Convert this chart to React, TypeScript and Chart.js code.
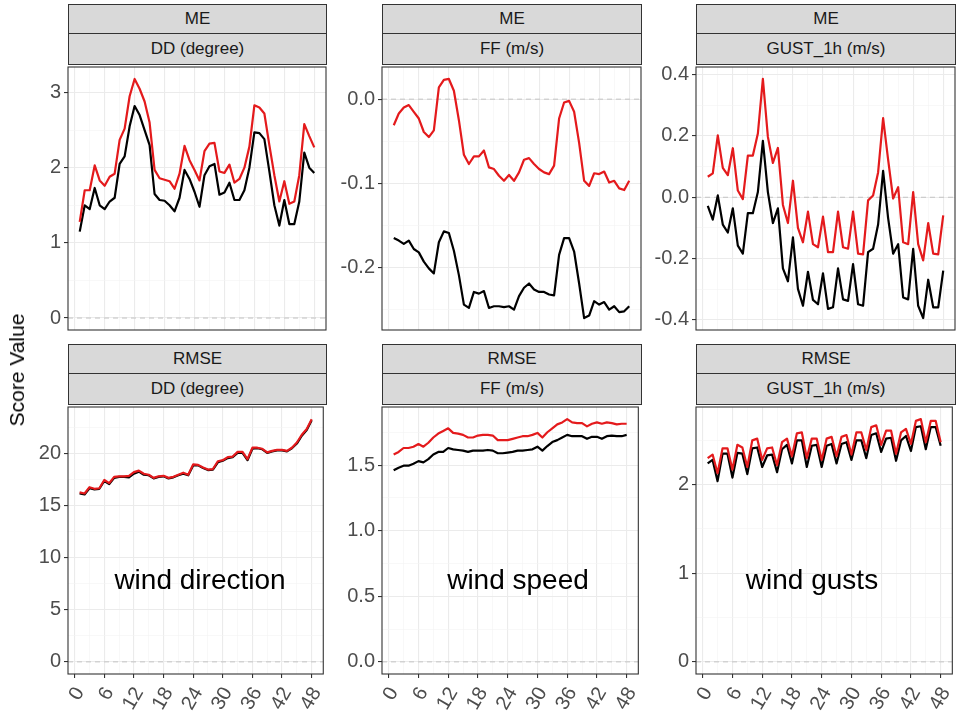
import React, { useEffect, useRef } from 'react';
import { Chart, registerables } from 'chart.js';

Chart.register(...registerables);

const FONT = "'Liberation Sans', Arial, Helvetica, sans-serif";

// ---------- data ----------
const HOURS = [1, 2, 3, 4, 5, 6, 7, 8, 9, 10, 11, 12, 13, 14, 15, 16, 17, 18, 19, 20, 21, 22, 23, 24,
  25, 26, 27, 28, 29, 30, 31, 32, 33, 34, 35, 36, 37, 38, 39, 40, 41, 42, 43, 44, 45, 46, 47, 48];
const X_TICKS = [0, 3, 6, 9, 12, 15, 18, 21, 24, 27, 30, 33, 36, 39, 42, 45, 48];
const X_MAJOR = [0, 6, 12, 18, 24, 30, 36, 42, 48];

const DD_ME_RED = [1.28, 1.70, 1.70, 2.03, 1.83, 1.76, 1.88, 1.92, 2.37, 2.52, 2.95, 3.18, 3.05, 2.88, 2.60, 1.97,
  1.86, 1.84, 1.82, 1.72, 1.92, 2.29, 2.10, 1.97, 1.83, 2.22, 2.32, 2.33, 1.95, 1.93, 2.04, 1.80,
  1.85, 2.00, 2.28, 2.83, 2.80, 2.72, 2.30, 1.90, 1.55, 1.82, 1.52, 1.55, 1.90, 2.58, 2.42, 2.27];
const DD_ME_BLACK = [1.15, 1.50, 1.45, 1.73, 1.50, 1.45, 1.55, 1.60, 2.05, 2.15, 2.55, 2.82, 2.70, 2.50, 2.30, 1.65,
  1.57, 1.56, 1.50, 1.42, 1.60, 1.97, 1.85, 1.68, 1.48, 1.90, 2.02, 2.05, 1.64, 1.67, 1.80, 1.57,
  1.57, 1.70, 2.00, 2.47, 2.46, 2.38, 1.95, 1.50, 1.23, 1.57, 1.25, 1.25, 1.55, 2.20, 2.00, 1.93];

const FF_ME_RED = [-0.031, -0.017, -0.010, -0.007, -0.015, -0.023, -0.039, -0.045, -0.037, 0.014, 0.023, 0.024,
  0.010, -0.025, -0.066, -0.077, -0.068, -0.068, -0.061, -0.081, -0.083, -0.091, -0.097, -0.090,
  -0.097, -0.087, -0.072, -0.070, -0.077, -0.083, -0.087, -0.089, -0.079, -0.023, -0.004, -0.002,
  -0.015, -0.052, -0.097, -0.103, -0.088, -0.089, -0.086, -0.099, -0.097, -0.106, -0.108, -0.097];
const FF_ME_BLACK = [-0.165, -0.168, -0.172, -0.168, -0.178, -0.182, -0.193, -0.201, -0.207, -0.170, -0.157, -0.159,
  -0.180, -0.209, -0.244, -0.248, -0.229, -0.231, -0.228, -0.248, -0.246, -0.246, -0.247, -0.246,
  -0.250, -0.234, -0.224, -0.219, -0.226, -0.229, -0.229, -0.232, -0.233, -0.185, -0.165, -0.165,
  -0.181, -0.219, -0.260, -0.257, -0.240, -0.244, -0.241, -0.250, -0.246, -0.253, -0.252, -0.246];

const GUST_ME_RED = [0.067, 0.078, 0.202, 0.096, 0.072, 0.160, 0.022, -0.006, 0.136, 0.136, 0.208, 0.386,
  0.197, 0.112, 0.161, -0.025, -0.084, 0.054, -0.100, -0.147, -0.047, -0.153, -0.163, -0.063,
  -0.179, -0.179, -0.047, -0.163, -0.168, -0.047, -0.184, -0.186, -0.010, 0.006, 0.081, 0.258,
  0.123, -0.004, 0.033, -0.147, -0.153, 0.017, -0.153, -0.206, -0.084, -0.184, -0.186, -0.059];
const GUST_ME_BLACK = [-0.028, -0.073, 0.006, -0.089, -0.115, -0.036, -0.158, -0.184, -0.052, -0.052, 0.017, 0.184,
  0.017, -0.084, -0.036, -0.232, -0.274, -0.131, -0.299, -0.354, -0.243, -0.335, -0.349, -0.248,
  -0.364, -0.359, -0.232, -0.333, -0.338, -0.218, -0.349, -0.354, -0.179, -0.168, -0.089, 0.086,
  -0.068, -0.184, -0.153, -0.327, -0.333, -0.168, -0.354, -0.394, -0.269, -0.359, -0.359, -0.239];

const DD_RMSE_RED = [16.3, 16.2, 16.8, 16.65, 16.7, 17.5, 17.2, 17.8, 17.85, 17.85, 17.9, 18.25, 18.4, 18.1, 18.0, 17.7,
  17.85, 17.9, 17.7, 17.8, 18.0, 18.2, 18.0, 19.0, 18.95, 18.7, 18.5, 18.55, 19.3, 19.4, 19.7, 19.75,
  20.2, 20.2, 19.5, 20.6, 20.6, 20.5, 20.15, 20.3, 20.4, 20.4, 20.3, 20.6, 21.1, 21.85, 22.4, 23.35];
const DD_RMSE_BLACK = [16.2, 16.1, 16.7, 16.6, 16.65, 17.4, 17.1, 17.7, 17.8, 17.8, 17.75, 18.1, 18.3, 18.0, 17.95, 17.65,
  17.8, 17.85, 17.65, 17.75, 17.95, 18.1, 17.95, 18.9, 18.9, 18.65, 18.45, 18.5, 19.2, 19.35, 19.6, 19.7,
  20.1, 20.1, 19.4, 20.5, 20.55, 20.45, 20.1, 20.25, 20.35, 20.35, 20.25, 20.55, 21.0, 21.75, 22.3, 23.25];

const FF_RMSE_RED = [1.58, 1.60, 1.63, 1.63, 1.64, 1.66, 1.64, 1.67, 1.71, 1.74, 1.76, 1.78, 1.745, 1.74, 1.73, 1.71,
  1.71, 1.725, 1.73, 1.73, 1.725, 1.69, 1.69, 1.69, 1.70, 1.71, 1.72, 1.72, 1.73, 1.745, 1.71, 1.75,
  1.78, 1.81, 1.825, 1.85, 1.825, 1.82, 1.82, 1.795, 1.815, 1.825, 1.815, 1.825, 1.82, 1.81, 1.815, 1.815];
const FF_RMSE_BLACK = [1.46, 1.48, 1.495, 1.495, 1.51, 1.53, 1.52, 1.545, 1.58, 1.60, 1.60, 1.63, 1.62, 1.615, 1.61, 1.60,
  1.61, 1.61, 1.61, 1.615, 1.61, 1.59, 1.59, 1.595, 1.60, 1.61, 1.61, 1.615, 1.62, 1.64, 1.61, 1.645,
  1.675, 1.69, 1.71, 1.73, 1.72, 1.72, 1.72, 1.70, 1.715, 1.715, 1.70, 1.72, 1.725, 1.72, 1.72, 1.73];

const GUST_RMSE_RED = [2.30, 2.34, 2.13, 2.41, 2.41, 2.17, 2.45, 2.42, 2.20, 2.50, 2.52, 2.28, 2.41, 2.42, 2.22, 2.48,
  2.52, 2.32, 2.58, 2.59, 2.30, 2.52, 2.52, 2.28, 2.52, 2.54, 2.32, 2.54, 2.56, 2.34, 2.59, 2.59,
  2.39, 2.65, 2.67, 2.45, 2.61, 2.61, 2.35, 2.59, 2.63, 2.46, 2.72, 2.74, 2.48, 2.72, 2.72, 2.48];
const GUST_RMSE_BLACK = [2.24, 2.28, 2.04, 2.35, 2.35, 2.08, 2.36, 2.35, 2.12, 2.41, 2.42, 2.20, 2.33, 2.34, 2.14, 2.40,
  2.45, 2.24, 2.50, 2.50, 2.20, 2.44, 2.45, 2.20, 2.44, 2.46, 2.24, 2.46, 2.48, 2.28, 2.50, 2.50,
  2.30, 2.56, 2.58, 2.37, 2.52, 2.53, 2.27, 2.50, 2.55, 2.38, 2.65, 2.66, 2.40, 2.65, 2.65, 2.44];

// y tick lists
const DD_ME_YMAJOR = [0, 1, 2, 3];
const DD_ME_YMINOR = [0.5, 1.5, 2.5];
const FF_ME_YMAJOR = [-0.2, -0.1, 0];
const FF_ME_YMINOR = [-0.25, -0.15, -0.05];
const GUST_ME_YMAJOR = [-0.4, -0.2, 0, 0.2, 0.4];
const GUST_ME_YMINOR = [-0.3, -0.1, 0.1, 0.3];
const DD_RMSE_YMAJOR = [0, 5, 10, 15, 20];
const DD_RMSE_YMINOR = [2.5, 7.5, 12.5, 17.5, 22.5];
const FF_RMSE_YMAJOR = [0, 0.5, 1, 1.5];
const FF_RMSE_YMINOR = [0.25, 0.75, 1.25, 1.75];
const GUST_RMSE_YMAJOR = [0, 1, 2];
const GUST_RMSE_YMINOR = [0.5, 1.5, 2.5];

const SCORES = ['ME', 'RMSE'];
const PARAMS = ['DD (degree)', 'FF (m/s)', 'GUST_1h (m/s)'];
const NOTES = ['wind direction', 'wind speed', 'wind gusts'];
const Y_TITLE = 'Score Value';

// ---------- layout ----------
const COL_X = [68, 382, 696];
const COL_W = [258, 259, 259];
const ROW_Y = [64, 404];
const ROW_H = [269, 270];
const STRIP_TOP = [4, 344];
const YW = 70;
const PT = 12;
const PR = 12;
const PB = 12;
const XH = 46;
const XMIN = -1.35;
const XMAX = 50.35;

const RED = '#E41A1C';

const borderPlugin = {
  id: 'panelBorder',
  afterDraw(chart: any) {
    const { ctx, chartArea: a } = chart;
    ctx.save();
    ctx.strokeStyle = '#333333';
    ctx.lineWidth = 1.1;
    ctx.strokeRect(a.left, a.top, a.right - a.left, a.bottom - a.top);
    ctx.restore();
  },
};

type PanelProps = {
  x: number; y: number; w: number; h: number;
  red: number[]; black: number[];
  yMajor: number[]; yMinor: number[]; dec: number; showX: boolean;
};

function Panel(p: PanelProps) {
  const ref = useRef<HTMLCanvasElement>(null);
  const cw = YW + p.w + PR;
  const ch = PT + p.h + (p.showX ? XH : PB);
  useEffect(() => {
    const all = [...p.red, ...p.black, 0];
    const dmin = Math.min(...all);
    const dmax = Math.max(...all);
    const pad = (dmax - dmin) * 0.05;
    const yTicks = [...p.yMajor, ...p.yMinor].sort((a, b) => a - b);
    const isXMaj = (v: number) => X_MAJOR.includes(v);
    const isYMaj = (v: number) => p.yMajor.includes(v);
    const tickFont = { family: FONT, size: 20 };
    const chart = new Chart(ref.current as HTMLCanvasElement, {
      type: 'line',
      data: {
        datasets: [
          {
            data: HOURS.map((hr, i) => ({ x: hr, y: p.red[i] })),
            borderColor: RED, borderWidth: 2.2, pointRadius: 0, tension: 0, borderJoinStyle: 'round',
          },
          {
            data: HOURS.map((hr, i) => ({ x: hr, y: p.black[i] })),
            borderColor: '#000000', borderWidth: 2.2, pointRadius: 0, tension: 0, borderJoinStyle: 'round',
          },
          {
            data: [{ x: XMIN, y: 0 }, { x: XMAX, y: 0 }],
            borderColor: '#C4C4C4', borderWidth: 1, borderDash: [5, 4], pointRadius: 0,
          },
        ],
      } as any,
      options: {
        responsive: false,
        animation: false,
        events: [],
        layout: { padding: { top: PT, right: PR, left: 0, bottom: p.showX ? 0 : PB } },
        plugins: { legend: { display: false }, tooltip: { enabled: false } },
        scales: {
          x: {
            type: 'linear', min: XMIN, max: XMAX, bounds: 'data',
            afterBuildTicks: (s: any) => { s.ticks = X_TICKS.map((v) => ({ value: v })); },
            afterFit: (s: any) => { s.height = p.showX ? XH : 0; },
            border: { display: false },
            grid: {
              color: (c: any) => (isXMaj(c.tick?.value) ? '#EBEBEB' : '#F3F3F3'),
              lineWidth: (c: any) => (isXMaj(c.tick?.value) ? 1.1 : 0.6),
              drawTicks: p.showX, tickLength: 4, tickWidth: 1.1,
              tickColor: (c: any) => (isXMaj(c.tick?.value) ? '#333333' : 'rgba(0,0,0,0)'),
            },
            ticks: {
              display: p.showX, autoSkip: false, minRotation: 60, maxRotation: 60, padding: 5,
              labelOffset: 5,
              color: '#4D4D4D', font: tickFont,
              callback: (v: any) => (isXMaj(v) ? String(v) : ''),
            },
          },
          y: {
            type: 'linear', min: dmin - pad, max: dmax + pad, bounds: 'data',
            afterBuildTicks: (s: any) => { s.ticks = yTicks.map((v) => ({ value: v })); },
            afterFit: (s: any) => { s.width = YW; },
            border: { display: false },
            grid: {
              color: (c: any) => (isYMaj(c.tick?.value) ? '#EBEBEB' : '#F3F3F3'),
              lineWidth: (c: any) => (isYMaj(c.tick?.value) ? 1.1 : 0.6),
              drawTicks: true, tickLength: 4, tickWidth: 1.1,
              tickColor: (c: any) => (isYMaj(c.tick?.value) ? '#333333' : 'rgba(0,0,0,0)'),
            },
            ticks: {
              autoSkip: false, padding: 3, color: '#4D4D4D', font: tickFont,
              callback: (v: any) => (isYMaj(v) ? Number(v).toFixed(p.dec) : ''),
            },
          },
        },
      } as any,
      plugins: [borderPlugin],
    });
    return () => chart.destroy();
  }, []);
  return (
    <canvas
      ref={ref}
      width={cw}
      height={ch}
      style={{ position: 'absolute', left: p.x - YW, top: p.y - PT, width: cw, height: ch }}
    />
  );
}

function Strip({ x, y, w, h, text }: { x: number; y: number; w: number; h: number; text: string }) {
  return (
    <div
      style={{
        position: 'absolute', left: x, top: y, width: w, height: h, boxSizing: 'border-box',
        background: '#D9D9D9', border: '1px solid #333333', display: 'flex', alignItems: 'center',
        justifyContent: 'center', fontFamily: FONT, fontSize: 17, color: '#1A1A1A',
      }}
    >
      {text}
    </div>
  );
}

export default function App() {
  const panels = [
    [
      { red: DD_ME_RED, black: DD_ME_BLACK, yMajor: DD_ME_YMAJOR, yMinor: DD_ME_YMINOR, dec: 0 },
      { red: FF_ME_RED, black: FF_ME_BLACK, yMajor: FF_ME_YMAJOR, yMinor: FF_ME_YMINOR, dec: 1 },
      { red: GUST_ME_RED, black: GUST_ME_BLACK, yMajor: GUST_ME_YMAJOR, yMinor: GUST_ME_YMINOR, dec: 1 },
    ],
    [
      { red: DD_RMSE_RED, black: DD_RMSE_BLACK, yMajor: DD_RMSE_YMAJOR, yMinor: DD_RMSE_YMINOR, dec: 0 },
      { red: FF_RMSE_RED, black: FF_RMSE_BLACK, yMajor: FF_RMSE_YMAJOR, yMinor: FF_RMSE_YMINOR, dec: 1 },
      { red: GUST_RMSE_RED, black: GUST_RMSE_BLACK, yMajor: GUST_RMSE_YMAJOR, yMinor: GUST_RMSE_YMINOR, dec: 0 },
    ],
  ];
  const noteX = [200, 518, 812];
  return (
    <div style={{ position: 'absolute', left: 0, top: 0, width: 960, height: 714, background: '#FFFFFF', overflow: 'hidden' }}>
      {panels.map((row, r) =>
        row.map((pp, c) => (
          <React.Fragment key={`${r}-${c}`}>
            <Panel x={COL_X[c]} y={ROW_Y[r]} w={COL_W[c]} h={ROW_H[r]} showX={r === 1} {...pp} />
            <Strip x={COL_X[c]} y={STRIP_TOP[r]} w={COL_W[c] + 1} h={30} text={SCORES[r]} />
            <Strip x={COL_X[c]} y={STRIP_TOP[r] + 29} w={COL_W[c] + 1} h={32} text={PARAMS[c]} />
          </React.Fragment>
        ))
      )}
      {NOTES.map((t, i) => (
        <div
          key={t}
          style={{
            position: 'absolute', left: noteX[i], top: 580, transform: 'translate(-50%, -50%)',
            fontFamily: FONT, fontSize: 28, color: '#000000', whiteSpace: 'nowrap',
          }}
        >
          {t}
        </div>
      ))}
      <div
        style={{
          position: 'absolute', left: 17, top: 370, transform: 'translate(-50%, -50%) rotate(-90deg)',
          fontFamily: FONT, fontSize: 21, color: '#000000', whiteSpace: 'nowrap',
        }}
      >
        {Y_TITLE}
      </div>
    </div>
  );
}
